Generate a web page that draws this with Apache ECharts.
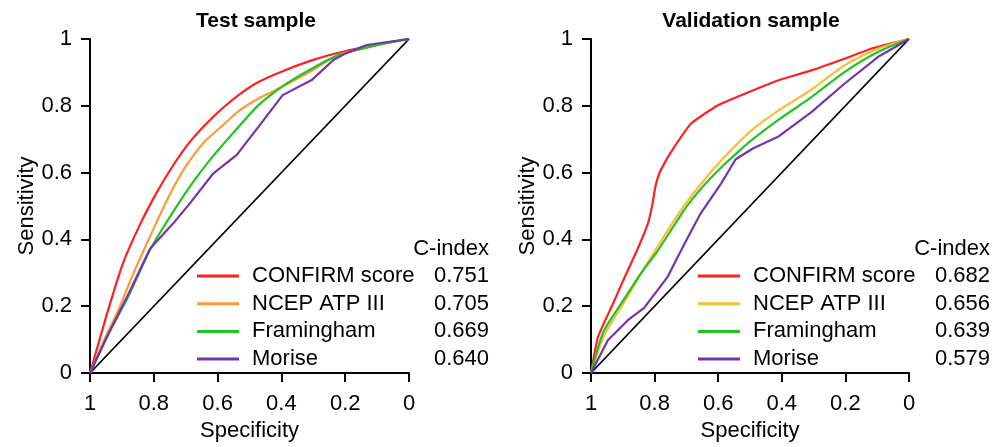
<!DOCTYPE html>
<html><head><meta charset="utf-8">
<script src="https://cdn.jsdelivr.net/npm/echarts@6/dist/echarts.min.js"></script>
<style>html,body{margin:0;padding:0;background:#fff}#c{width:1006px;height:447px}</style>
</head><body><div id="c"></div>
<script>
// ---- data: [specificity, sensitivity] pairs ----
const seriesNames = ['CONFIRM score', 'NCEP ATP III', 'Framingham', 'Morise'];
const testCIndex = ['0.751', '0.705', '0.669', '0.640'];
const validCIndex = ['0.682', '0.656', '0.639', '0.579'];
const axisTicks = [0, 0.2, 0.4, 0.6, 0.8, 1];

const testConfirm = [[1,0],[0.97,0.10],[0.943,0.189],[0.896,0.33],[0.843,0.445],[0.791,0.54],[0.739,0.622],[0.687,0.692],[0.634,0.748],[0.582,0.795],[0.53,0.835],[0.472,0.871],[0.40,0.902],[0.305,0.936],[0.211,0.961],[0.096,0.984],[0,1]];
const testNcep = [[1,0],[0.955,0.10],[0.911,0.189],[0.864,0.298],[0.812,0.408],[0.76,0.515],[0.707,0.608],[0.645,0.688],[0.582,0.743],[0.53,0.787],[0.472,0.822],[0.41,0.851],[0.305,0.905],[0.222,0.952],[0.097,0.982],[0,1]];
const testFram = [[1,0],[0.944,0.115],[0.885,0.219],[0.812,0.368],[0.749,0.468],[0.687,0.558],[0.624,0.638],[0.561,0.708],[0.472,0.802],[0.396,0.859],[0.305,0.911],[0.222,0.951],[0.097,0.982],[0,1]];
const testMorise = [[1,0],[0.944,0.113],[0.87,0.255],[0.812,0.372],[0.739,0.448],[0.687,0.508],[0.613,0.598],[0.54,0.653],[0.472,0.737],[0.396,0.832],[0.305,0.877],[0.237,0.937],[0.198,0.957],[0.133,0.982],[0,1]];

const validConfirm = [[1,0],[0.978,0.108],[0.932,0.205],[0.895,0.285],[0.853,0.372],[0.821,0.447],[0.808,0.50],[0.797,0.56],[0.785,0.598],[0.765,0.635],[0.744,0.668],[0.686,0.746],[0.602,0.801],[0.491,0.846],[0.412,0.876],[0.307,0.906],[0.203,0.941],[0.119,0.971],[0,1]];
const validNcep = [[1,0],[0.96,0.11],[0.90,0.205],[0.842,0.298],[0.791,0.378],[0.717,0.488],[0.644,0.578],[0.59,0.637],[0.54,0.686],[0.491,0.73],[0.412,0.785],[0.307,0.848],[0.203,0.921],[0.098,0.971],[0,1]];
const validFram = [[1,0],[0.96,0.125],[0.90,0.215],[0.842,0.30],[0.791,0.365],[0.707,0.488],[0.654,0.552],[0.602,0.605],[0.54,0.66],[0.491,0.70],[0.412,0.757],[0.307,0.826],[0.203,0.901],[0.098,0.961],[0,1]];
const validMorise = [[1,0],[0.947,0.098],[0.884,0.158],[0.833,0.195],[0.759,0.288],[0.706,0.387],[0.655,0.478],[0.591,0.567],[0.545,0.64],[0.491,0.672],[0.412,0.707],[0.307,0.781],[0.203,0.866],[0.098,0.946],[0,1]];

const diagonal = [[1,0],[0,1]];

// ---- styling ----
const FONT = "'Liberation Sans', Arial, sans-serif";
const FS = 22;
const testColors = ['#ff2020', '#ff9a3a', '#22c422', '#7234b0'];
const validColors = ['#ff2020', '#ffbb33', '#22c422', '#7234b0'];

function xAxisDef(gi) {
  return {
    gridIndex: gi, type: 'value', min: 0, max: 1, interval: 0.2, inverse: true,
    name: 'Specificity', nameLocation: 'middle', nameGap: 45,
    nameTextStyle: { fontSize: FS, color: '#000', fontFamily: FONT },
    axisLine: { onZero: false, lineStyle: { color: '#000', width: 2 } },
    axisTick: { show: true, length: 9, lineStyle: { color: '#000', width: 2 } },
    axisLabel: { margin: 20, fontSize: FS, color: '#000', fontFamily: FONT },
    splitLine: { show: false }
  };
}
function yAxisDef(gi) {
  return {
    gridIndex: gi, type: 'value', min: 0, max: 1, interval: 0.2,
    name: 'Sensitivity', nameLocation: 'middle', nameGap: 52, nameRotate: 90,
    nameTextStyle: { fontSize: FS, color: '#000', fontFamily: FONT },
    axisLine: { onZero: false, show: true, lineStyle: { color: '#000', width: 2 } },
    axisTick: { show: true, length: 9, lineStyle: { color: '#000', width: 2 } },
    axisLabel: { margin: 18, fontSize: FS, color: '#000', fontFamily: FONT },
    splitLine: { show: false }
  };
}
function lineSeries(name, data, color, gi, smooth) {
  return {
    name: name, type: 'line', xAxisIndex: gi, yAxisIndex: gi, data: data,
    showSymbol: false, symbol: 'none', smooth: smooth,
    lineStyle: { color: color, width: 2.2 }, itemStyle: { color: color },
    animation: false, silent: true
  };
}
function legendDef(left, colors, cidx) {
  return {
    orient: 'vertical', left: left, top: 265, padding: 0, itemGap: 5.7,
    itemWidth: 42, itemHeight: 3, icon: 'rect', selectedMode: false,
    data: seriesNames.map((n, i) => ({ name: n, itemStyle: { color: colors[i] } })),
    formatter: function (name) {
      return '{n|' + name + '}{v|' + cidx[seriesNames.indexOf(name)] + '}';
    },
    textStyle: {
      fontFamily: FONT, fontSize: FS, color: '#000',
      rich: {
        n: { width: 172, padding: [0, 0, 0, 8], fontSize: FS, lineHeight: 22, fontFamily: FONT, color: '#000' },
        v: { width: 65, align: 'right', fontSize: FS, lineHeight: 22, fontFamily: FONT, color: '#000' }
      }
    }
  };
}

const chart = echarts.init(document.getElementById('c'), null, { renderer: 'canvas' });
chart.setOption({
  animation: false,
  backgroundColor: '#fff',
  title: [
    { text: 'Test sample', left: 256, top: 11, textAlign: 'center', padding: 0,
      textStyle: { fontSize: 21, fontWeight: 'bold', color: '#000', fontFamily: FONT } },
    { text: 'Validation sample', left: 751, top: 11, textAlign: 'center', padding: 0,
      textStyle: { fontSize: 21, fontWeight: 'bold', color: '#000', fontFamily: FONT } },
    { text: 'C-index', left: 489, top: 238, textAlign: 'right', padding: 0,
      textStyle: { fontSize: FS, fontWeight: 'normal', color: '#000', fontFamily: FONT } },
    { text: 'C-index', left: 990, top: 238, textAlign: 'right', padding: 0,
      textStyle: { fontSize: FS, fontWeight: 'normal', color: '#000', fontFamily: FONT } }
  ],
  grid: [
    { left: 90, top: 39, width: 319, height: 334 },
    { left: 591, top: 39, width: 318, height: 334 }
  ],
  xAxis: [xAxisDef(0), xAxisDef(1)],
  yAxis: [yAxisDef(0), yAxisDef(1)],
  legend: [legendDef(197, testColors, testCIndex), legendDef(698, validColors, validCIndex)],
  series: [
    { type: 'line', xAxisIndex: 0, yAxisIndex: 0, data: diagonal, symbol: 'none', silent: true,
      lineStyle: { color: '#000', width: 1.8 } },
    lineSeries(seriesNames[0], testConfirm, testColors[0], 0, 0.3),
    lineSeries(seriesNames[1], testNcep, testColors[1], 0, 0.3),
    lineSeries(seriesNames[2], testFram, testColors[2], 0, 0.2),
    lineSeries(seriesNames[3], testMorise, testColors[3], 0, false),
    { type: 'line', xAxisIndex: 1, yAxisIndex: 1, data: diagonal, symbol: 'none', silent: true,
      lineStyle: { color: '#000', width: 1.8 } },
    lineSeries(seriesNames[0], validConfirm, validColors[0], 1, 0.15),
    lineSeries(seriesNames[1], validNcep, validColors[1], 1, 0.25),
    lineSeries(seriesNames[2], validFram, validColors[2], 1, 0.25),
    lineSeries(seriesNames[3], validMorise, validColors[3], 1, false)
  ]
});
</script>
</body></html>
